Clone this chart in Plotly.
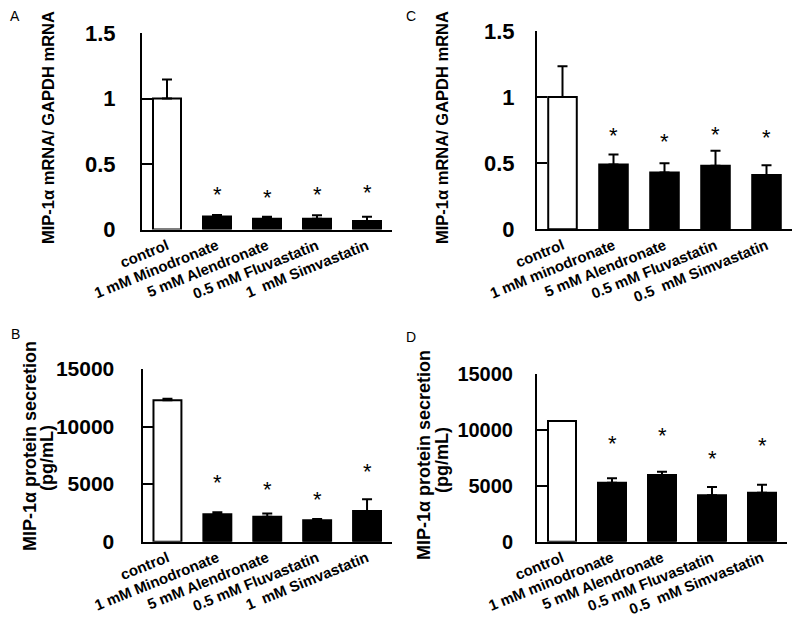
import plotly.graph_objects as go

# ---------------- data ----------------
cats_AB = ["control", "1 mM Minodronate", "5 mM Alendronate",
           "0.5 mM Fluvastatin", "1\u00a0 mM Simvastatin"]
cats_CD = ["control", "1 mM minodronate", "5 mM Alendronate",
           "0.5 mM Fluvastatin", "0.5\u00a0 mM Simvastatin"]

A_vals = [1.00, 0.100, 0.082, 0.082, 0.065]
A_err = [1.145, 0.110, 0.097, 0.108, 0.097]
A_star = [None, 0.31, 0.29, 0.31, 0.33]

B_vals = [12280, 2380, 2170, 1860, 2660]
B_err = [12410, 2550, 2460, 1970, 3680]
B_star = [None, 5640, 5090, 4200, 6600]

C_vals = [1.00, 0.49, 0.43, 0.48, 0.41]
C_err = [1.233, 0.565, 0.50, 0.595, 0.485]
C_star = [None, 0.755, 0.71, 0.76, 0.737]

D_vals = [10800, 5280, 5960, 4150, 4380]
D_err = [10800, 5670, 6260, 4890, 5100]
D_star = [None, 9340, 10000, 7960, 9100]

mrna_ticks = [0, 0.5, 1, 1.5]
mrna_ticktext = ["0", "0.5", "1", "1.5"]
prot_ticks = [0, 5000, 10000, 15000]
prot_ticktext = ["0", "5000", "10000", "15000"]

# The page body has an 8px margin, so the figure is drawn 8px in from the
# window's top-left corner; size and place everything in window pixels.
OFF = 8
W, H = 800 - OFF, 637 - OFF
FONT = "Arial, Liberation Sans, sans-serif"


def px(x):
    return (x - OFF) / W


def py(y):
    return 1 - (y - OFF) / H


panels = [
    dict(cats=cats_AB, vals=A_vals, err=A_err, star=A_star, yr=[0, 1.5],
         tv=mrna_ticks, tt=mrna_ticktext, x0=142, x1=392, yt=33, yb=229.5,
         tick=22, standoff=20),
    dict(cats=cats_AB, vals=B_vals, err=B_err, star=B_star, yr=[0, 15000],
         tv=prot_ticks, tt=prot_ticktext, x0=142.5, x1=392, yt=369, yb=541.7,
         tick=21, standoff=22),
    dict(cats=cats_CD, vals=C_vals, err=C_err, star=C_star, yr=[0, 1.5],
         tv=mrna_ticks, tt=mrna_ticktext, x0=537, x1=792, yt=31, yb=229.3,
         tick=22, standoff=16),
    dict(cats=cats_CD, vals=D_vals, err=D_err, star=D_star, yr=[0, 15000],
         tv=prot_ticks, tt=prot_ticktext, x0=537, x1=787, yt=374, yb=541.7,
         tick=20, standoff=18),
]

fig = go.Figure()
annotations = []
layout = {}

for i, p in enumerate(panels, start=1):
    xa = "x" if i == 1 else f"x{i}"
    ya = "y" if i == 1 else f"y{i}"
    xkey = "xaxis" if i == 1 else f"xaxis{i}"
    ykey = "yaxis" if i == 1 else f"yaxis{i}"
    colors = ["white"] + ["black"] * (len(p["vals"]) - 1)
    fig.add_trace(go.Bar(
        x=list(range(len(p["cats"]))), y=p["vals"], width=0.56,
        marker=dict(color=colors, line=dict(color="black", width=2)),
        error_y=dict(type="data", symmetric=False,
                     array=[e - v for e, v in zip(p["err"], p["vals"])],
                     arrayminus=[0] * len(p["vals"]),
                     color="black", thickness=2, width=5),
        xaxis=xa, yaxis=ya, showlegend=False, hoverinfo="skip",
    ))
    layout[xkey] = dict(
        domain=[px(p["x0"]), px(p["x1"])], range=[-0.5, len(p["cats"]) - 0.5],
        anchor=ya, showline=True, linecolor="black", linewidth=2,
        ticks="", showgrid=False, zeroline=False, automargin=False,
        tickmode="array", tickvals=list(range(len(p["cats"]))), ticktext=p["cats"],
        tickangle=-22, tickfont=dict(family=FONT, size=15, color="black", weight="bold"),
    )
    layout[ykey] = dict(
        domain=[py(p["yb"]), py(p["yt"])], range=p["yr"],
        anchor=xa, showline=True, linecolor="black", linewidth=2,
        ticks="inside", ticklen=10, tickwidth=2, tickcolor="black",
        showgrid=False, zeroline=False, automargin=False,
        tickmode="array", tickvals=p["tv"], ticktext=p["tt"],
        ticklabelstandoff=p["standoff"],
        tickfont=dict(family=FONT, size=p["tick"], color="black", weight="bold"),
    )
    for k, s in enumerate(p["star"]):
        if s is None:
            continue
        annotations.append(dict(
            x=k, y=s, xref=xa, yref=ya, text="*", showarrow=False,
            font=dict(family=FONT, size=22, color="black"),
            xanchor="center", yanchor="middle", yshift=-6,
        ))

# panel letters
for letter, x, y in [("A", 15, 16), ("B", 15, 334), ("C", 411, 16), ("D", 411, 337)]:
    annotations.append(dict(x=px(x), y=py(y), xref="paper", yref="paper",
                            text=letter, showarrow=False,
                            xanchor="center", yanchor="middle",
                            font=dict(family=FONT, size=14, color="black")))

# y-axis titles
for text, x, y, size in [("MIP-1\u03b1 mRNA/ GAPDH mRNA", 48, 128, 16.5),
                         ("MIP-1\u03b1 mRNA/ GAPDH mRNA", 442, 128, 16.5),
                         ("MIP-1\u03b1 protein secretion", 30, 446, 18),
                         ("(pg/mL)", 47, 458, 18),
                         ("MIP-1\u03b1 protein secretion", 424, 455, 18),
                         ("(pg/mL)", 442, 460, 18)]:
    annotations.append(dict(x=px(x), y=py(y), xref="paper", yref="paper",
                            text=text, showarrow=False, textangle=-90,
                            xanchor="center", yanchor="middle",
                            font=dict(family=FONT, size=size, color="black",
                                      weight="bold")))

fig.update_layout(
    template="none",
    width=W, height=H, margin=dict(l=0, r=0, t=0, b=0, autoexpand=False),
    paper_bgcolor="white", plot_bgcolor="white",
    annotations=annotations, **layout,
)

fig.write_html("out.html")
